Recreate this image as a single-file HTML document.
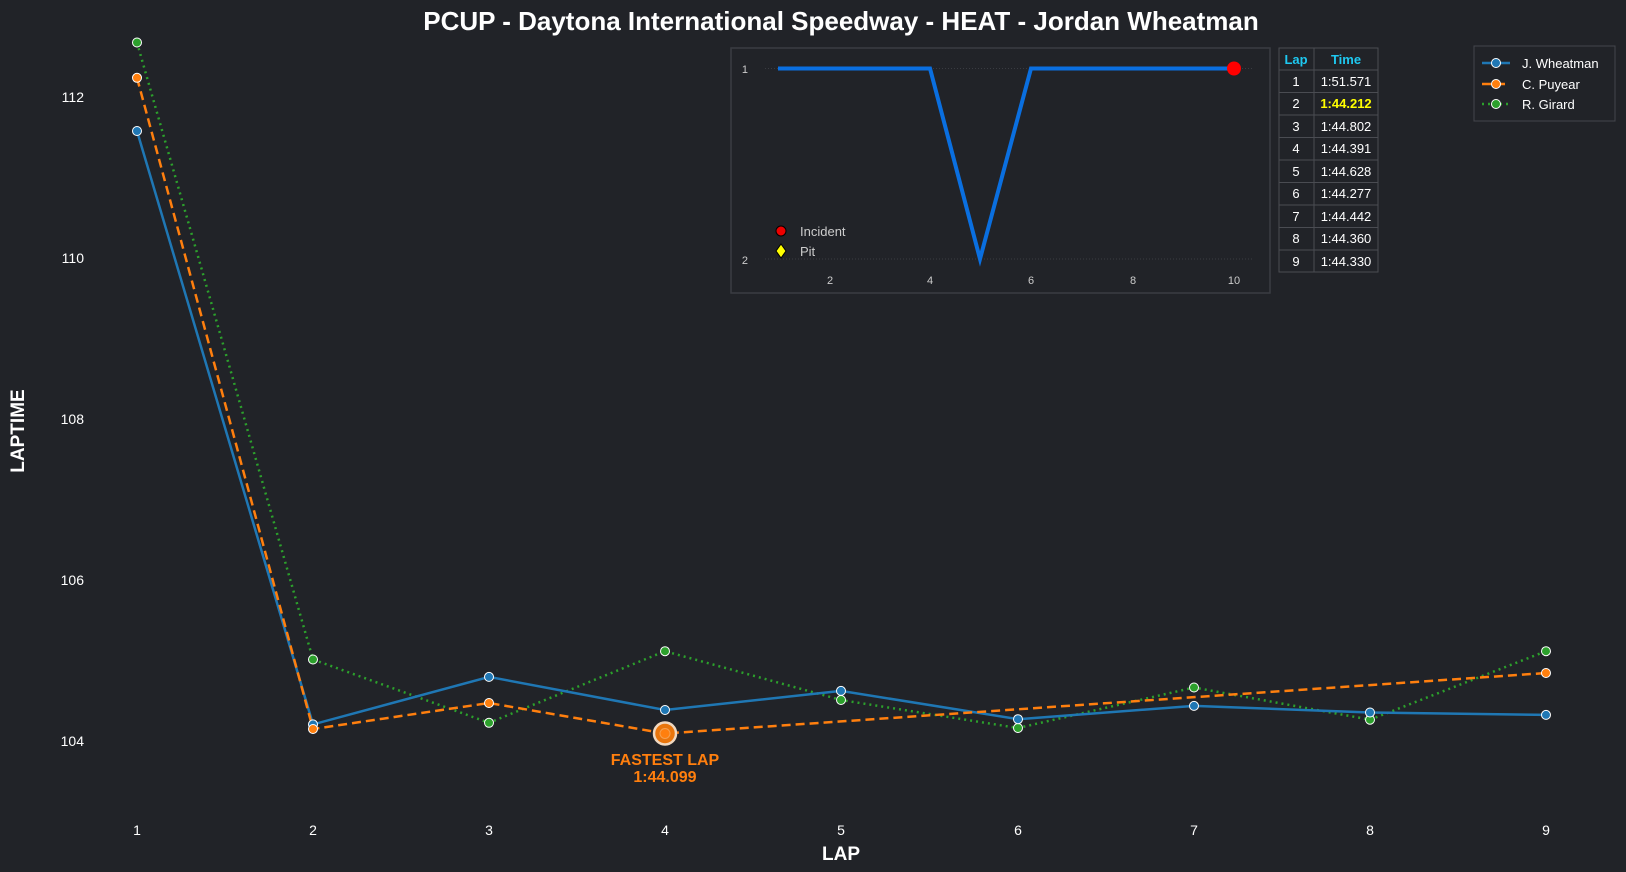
<!DOCTYPE html><html><head><meta charset="utf-8"><style>
body{margin:0;background:#212328;}
svg{display:block;font-family:"Liberation Sans",sans-serif;}
</style></head><body>
<svg width="1626" height="872" viewBox="0 0 1626 872">
<rect width="1626" height="872" fill="#212328"/>
<text x="841" y="30" fill="#fff" font-size="26" font-weight="bold" text-anchor="middle">PCUP - Daytona International Speedway - HEAT - Jordan Wheatman</text>
<g fill="#fff" font-size="14" text-anchor="end">
<text x="84" y="746">104</text><text x="84" y="585">106</text><text x="84" y="424">108</text><text x="84" y="263">110</text><text x="84" y="102">112</text>
</g>
<g fill="#fff" font-size="14" text-anchor="middle">
<text x="137" y="835">1</text><text x="313" y="835">2</text><text x="489" y="835">3</text><text x="665" y="835">4</text><text x="841" y="835">5</text><text x="1018" y="835">6</text><text x="1194" y="835">7</text><text x="1370" y="835">8</text><text x="1546" y="835">9</text>
</g>
<text x="841" y="860" fill="#fff" font-size="19" font-weight="bold" text-anchor="middle">LAP</text>
<text transform="translate(24,431) rotate(-90)" fill="#fff" font-size="19" font-weight="bold" text-anchor="middle">LAPTIME</text>
<!-- series -->
<polyline fill="none" stroke="#2ca02c" stroke-width="2.5" stroke-dasharray="2,4" points="137,42.5 313,659.5 489,722.8 665,651.2 841,700 1018,728 1194,687.5 1370,719.7 1546,651.2"/>
<polyline fill="none" stroke="#1f77b4" stroke-width="2.5" points="137,131 313,724.4 489,676.9 665,710 841,690.9 1018,719.2 1194,705.9 1370,712.5 1546,714.9"/>
<polyline fill="none" stroke="#ff7f0e" stroke-width="2.5" stroke-dasharray="9,5" points="137,77.8 313,729 489,703 665,733.5 1546,673"/>
<g stroke="#fff" stroke-width="1">
<g fill="#2ca02c"><circle cx="137" cy="42.5" r="4.5"/><circle cx="313" cy="659.5" r="4.5"/><circle cx="489" cy="722.8" r="4.5"/><circle cx="665" cy="651.2" r="4.5"/><circle cx="841" cy="700" r="4.5"/><circle cx="1018" cy="728" r="4.5"/><circle cx="1194" cy="687.5" r="4.5"/><circle cx="1370" cy="719.7" r="4.5"/><circle cx="1546" cy="651.2" r="4.5"/></g>
<g fill="#1f77b4"><circle cx="137" cy="131" r="4.5"/><circle cx="313" cy="724.4" r="4.5"/><circle cx="489" cy="676.9" r="4.5"/><circle cx="665" cy="710" r="4.5"/><circle cx="841" cy="690.9" r="4.5"/><circle cx="1018" cy="719.2" r="4.5"/><circle cx="1194" cy="705.9" r="4.5"/><circle cx="1370" cy="712.5" r="4.5"/><circle cx="1546" cy="714.9" r="4.5"/></g>
<g fill="#ff7f0e"><circle cx="137" cy="77.8" r="4.5"/><circle cx="313" cy="729" r="4.5"/><circle cx="489" cy="703" r="4.5"/><circle cx="1546" cy="673" r="4.5"/></g>
</g>
<circle cx="665" cy="733.5" r="11" fill="#e8750c" stroke="#f0d8c0" stroke-width="2.5"/>
<circle cx="665" cy="733.5" r="5" fill="#ff7f0e" stroke="#f5a050" stroke-width="1"/>
<text x="665" y="765" fill="#ff7f0e" font-size="16" font-weight="bold" text-anchor="middle">FASTEST LAP</text>
<text x="665" y="782" fill="#ff7f0e" font-size="16" font-weight="bold" text-anchor="middle">1:44.099</text>
<!-- inset -->
<rect x="731" y="48" width="539" height="245" fill="#212328" stroke="#3a3c42" stroke-width="1.5"/>
<line x1="765" y1="68.5" x2="1253" y2="68.5" stroke="#3a3c42" stroke-dasharray="1,2"/>
<line x1="765" y1="259" x2="1253" y2="259" stroke="#3a3c42" stroke-dasharray="1,2"/>
<text x="748" y="73" fill="#ccc" font-size="11" text-anchor="end">1</text>
<text x="748" y="264" fill="#ccc" font-size="11" text-anchor="end">2</text>
<g fill="#ccc" font-size="11" text-anchor="middle"><text x="830" y="284">2</text><text x="930" y="284">4</text><text x="1031" y="284">6</text><text x="1133" y="284">8</text><text x="1234" y="284">10</text></g>
<polyline fill="none" stroke="#0a6fe0" stroke-width="4" points="778,68.5 930,68.5 980,259 1031,68.5 1234,68.5"/>
<circle cx="1234" cy="68.5" r="7" fill="#f00"/>
<circle cx="781" cy="231" r="5" fill="#e00" stroke="#000" stroke-width="1"/>
<polygon points="781,244 786,251 781,258 776,251" fill="#ff0" stroke="#000" stroke-width="1"/>
<text x="800" y="236" fill="#ccc" font-size="13">Incident</text>
<text x="800" y="256" fill="#ccc" font-size="13">Pit</text>
<!-- table -->
<g stroke="#4a4c52" stroke-width="1" fill="none">
<rect x="1279" y="48" width="99" height="224"/>
<line x1="1314" y1="48" x2="1314" y2="272"/>
<line x1="1279" y1="70" x2="1378" y2="70"/><line x1="1279" y1="92.5" x2="1378" y2="92.5"/><line x1="1279" y1="115" x2="1378" y2="115"/><line x1="1279" y1="137.5" x2="1378" y2="137.5"/><line x1="1279" y1="160" x2="1378" y2="160"/><line x1="1279" y1="182.5" x2="1378" y2="182.5"/><line x1="1279" y1="205" x2="1378" y2="205"/><line x1="1279" y1="227.5" x2="1378" y2="227.5"/><line x1="1279" y1="250" x2="1378" y2="250"/>
</g>
<g font-size="13" text-anchor="middle" fill="#fff">
<text x="1296" y="64" fill="#1ec8f0" font-weight="bold">Lap</text><text x="1346" y="64" fill="#1ec8f0" font-weight="bold">Time</text>
<text x="1296" y="86">1</text><text x="1346" y="86">1:51.571</text>
<text x="1296" y="108">2</text><text x="1346" y="108" fill="#ffff00" font-weight="bold">1:44.212</text>
<text x="1296" y="131">3</text><text x="1346" y="131">1:44.802</text>
<text x="1296" y="153">4</text><text x="1346" y="153">1:44.391</text>
<text x="1296" y="176">5</text><text x="1346" y="176">1:44.628</text>
<text x="1296" y="198">6</text><text x="1346" y="198">1:44.277</text>
<text x="1296" y="221">7</text><text x="1346" y="221">1:44.442</text>
<text x="1296" y="243">8</text><text x="1346" y="243">1:44.360</text>
<text x="1296" y="266">9</text><text x="1346" y="266">1:44.330</text>
</g>
<!-- legend -->
<rect x="1474" y="46" width="141" height="75" fill="#212328" stroke="#44464c" stroke-width="1"/>
<line x1="1482" y1="63" x2="1510" y2="63" stroke="#1f77b4" stroke-width="2.5"/><circle cx="1496" cy="63" r="4.5" fill="#1f77b4" stroke="#fff"/>
<line x1="1482" y1="84" x2="1510" y2="84" stroke="#ff7f0e" stroke-width="2.5" stroke-dasharray="9,5"/><circle cx="1496" cy="84" r="4.5" fill="#ff7f0e" stroke="#fff"/>
<line x1="1482" y1="104" x2="1510" y2="104" stroke="#2ca02c" stroke-width="2.5" stroke-dasharray="2,4"/><circle cx="1496" cy="104" r="4.5" fill="#2ca02c" stroke="#fff"/>
<g fill="#fff" font-size="13"><text x="1522" y="68">J. Wheatman</text><text x="1522" y="89">C. Puyear</text><text x="1522" y="109">R. Girard</text></g>
</svg>
</body></html>
